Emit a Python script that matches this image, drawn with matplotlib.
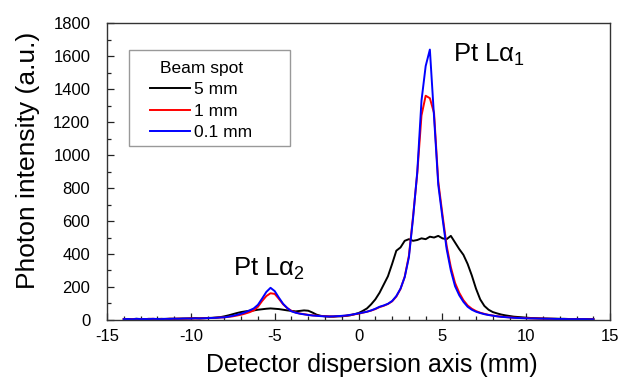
import numpy as np
import matplotlib
matplotlib.use("Agg")
import matplotlib.pyplot as plt
from matplotlib.ticker import MultipleLocator
from matplotlib.patches import Rectangle

plt.rcParams['font.family'] = ['Liberation Sans', 'DejaVu Sans']
plt.rcParams['mathtext.fontset'] = 'custom'
plt.rcParams['mathtext.rm'] = 'Liberation Sans'
plt.rcParams['mathtext.it'] = 'Liberation Sans:italic'
plt.rcParams['axes.unicode_minus'] = False

# detector position grid (mm), step 0.25 from -14 to 14
position = np.arange(-14.0, 14.001, 0.25)

# Beam spot 5 mm
spot_5mm = [
    5, 6, 5, 7, 6, 5, 7, 6, 6, 7, 6, 8, 7, 8, 9, 9, 10, 11,            # -14 .. -9.75
    10, 11, 12, 13, 15, 17, 22, 28, 35, 42, 48, 52, 56, 58, 62, 65,    # -9.5 .. -5.75
    68, 70, 68, 66, 62, 58, 55, 52, 55, 58, 56, 45, 32, 25,            # -5.5 .. -2.25
    22, 20, 20, 22, 22, 25, 28, 35, 42, 55, 70, 95, 125, 165,          # -2 .. 1.25
    215, 265, 340, 420, 440, 480, 490, 480, 485, 495, 490,             # 1.5 .. 4
    505, 500, 510, 495, 490, 510, 470, 430, 395, 340, 270,             # 4.25 .. 6.75
    190, 125, 85, 62, 48, 40, 33, 28, 24, 20, 18, 16,                  # 7 .. 9.75
    14, 12, 11, 10, 9, 9, 8, 8, 7, 7, 6, 6, 6, 5, 5, 5, 5,             # 10 .. 14
]

# Beam spot 1 mm
spot_1mm = [
    6, 5, 5, 6, 6, 5, 6, 7, 5, 6, 6, 7, 7, 8, 7, 8, 9, 9,              # -14 .. -9.75
    9, 10, 11, 12, 13, 15, 16, 19, 22, 27, 32, 39, 47, 58, 80, 115,    # -9.5 .. -5.75
    145, 162, 158, 128, 95, 72, 55, 45, 39, 35, 31, 28, 26, 24,        # -5.5 .. -2.25
    23, 22, 21, 23, 24, 26, 30, 34, 38, 44, 50, 57, 66, 78,            # -2 .. 1.25
    86, 97, 113, 142, 188, 262, 390, 630, 890, 1240, 1360,             # 1.5 .. 4
    1345, 1255, 840, 640, 450, 320, 225, 165, 120, 88, 68,             # 4.25 .. 6.75
    54, 44, 37, 31, 27, 23, 20, 18, 16, 14, 13, 12,                    # 7 .. 9.75
    11, 10, 9, 9, 8, 7, 7, 6, 6, 6, 5, 5, 5, 5, 4, 4, 4,               # 10 .. 14
]

# Beam spot 0.1 mm
spot_01mm = [
    5, 6, 4, 7, 5, 6, 5, 7, 6, 5, 7, 6, 8, 7, 8, 9, 8, 10,             # -14 .. -9.75
    9, 10, 11, 12, 13, 15, 16, 20, 25, 31, 38, 47, 58, 70, 92, 130,    # -9.5 .. -5.75
    170, 195, 175, 135, 98, 72, 52, 44, 38, 34, 30, 27, 25, 23,        # -5.5 .. -2.25
    22, 21, 22, 23, 25, 27, 31, 35, 40, 45, 50, 58, 68, 80,            # -2 .. 1.25
    88, 98, 115, 145, 190, 260, 380, 620, 900, 1330, 1540,             # 1.5 .. 4
    1640, 1230, 820, 620, 430, 300, 205, 150, 110, 80, 62,             # 4.25 .. 6.75
    50, 42, 35, 30, 26, 22, 19, 17, 15, 13, 12, 11,                    # 7 .. 9.75
    10, 9, 9, 8, 8, 7, 7, 6, 6, 6, 5, 5, 5, 5, 5, 4, 4,                # 10 .. 14
]

series_labels = ['5 mm', '1 mm', '0.1 mm']
series_colors = ['#000000', '#ff0000', '#0000ff']

fig = plt.figure(figsize=(6.22, 3.80), dpi=100)
ax = fig.add_axes([0.172, 0.158, 0.809, 0.781])

for vals, lab, col in zip([spot_5mm, spot_1mm, spot_01mm], series_labels, series_colors):
    ax.plot(position, vals, color=col, lw=1.4, label=lab)

ax.set_xlim(-15, 15)
ax.set_ylim(0, 1800)
ax.xaxis.set_major_locator(MultipleLocator(5))
ax.xaxis.set_minor_locator(MultipleLocator(1))
ax.yaxis.set_major_locator(MultipleLocator(200))
ax.yaxis.set_minor_locator(MultipleLocator(100))
ax.tick_params(which='both', direction='in', top=False, right=False,
               labelsize=12, width=0.9, colors='#222222', labelcolor='black')
ax.tick_params(which='major', length=5)
ax.tick_params(which='minor', length=3)
ax.tick_params(axis='y', which='both', pad=12)
ax.tick_params(axis='x', which='both', pad=6.5)
for s in ax.spines.values():
    s.set_color('#333333')
    s.set_linewidth(1.0)

ax.set_xlabel('Detector dispersion axis (mm)', fontsize=18)
ax.set_ylabel('Photon intensity (a.u.)', fontsize=19)
ax.xaxis.set_label_coords(0.527, -0.112)
ax.yaxis.set_label_coords(-0.133, 0.539)

ax.text(5.63, 1564, r'Pt L$\mathregular{\alpha_1}$', fontsize=18.5, va='baseline', ha='left')
ax.text(-7.49, 267, r'Pt L$\mathregular{\alpha_2}$', fontsize=18.5, va='baseline', ha='left')

# legend box drawn separately (it is wider than its content in the reference)
ax.add_patch(Rectangle((0.0437, 0.586), 0.3201, 0.323, transform=ax.transAxes,
                       facecolor='white', edgecolor='#999999', lw=1.0, zorder=4))
leg = ax.legend(title='Beam spot', loc='upper left', bbox_to_anchor=(0.0855, 0.872),
                borderaxespad=0, fontsize=12.5, title_fontsize=12.5, frameon=False,
                handlelength=2.3, handletextpad=0.25, labelspacing=0.35, borderpad=0)
leg.set_zorder(5)

fig.savefig('out.png', dpi=100)
